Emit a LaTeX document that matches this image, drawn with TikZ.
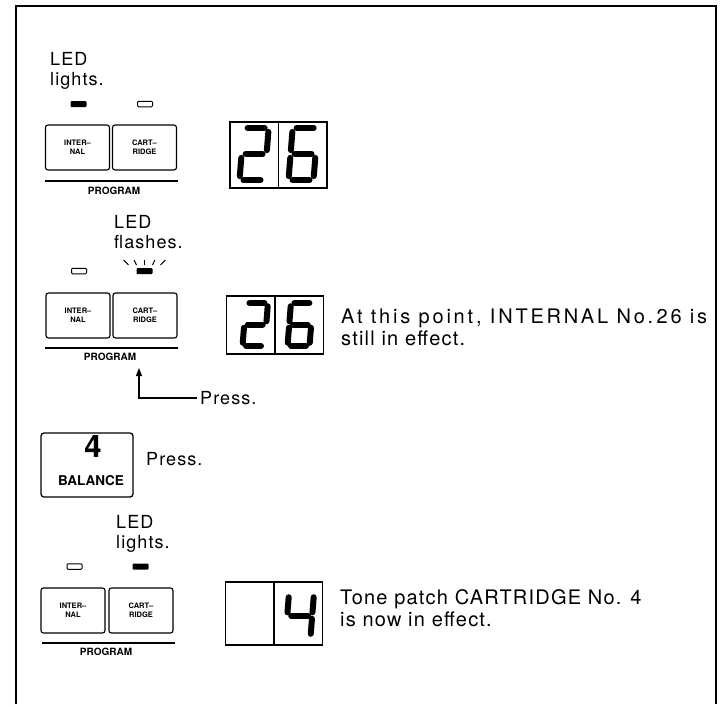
\documentclass[tikz,border=0pt]{standalone}
\usepackage{fontspec}
\setmainfont{TeX Gyre Heros}[LetterSpace=6]
\newfontfamily\keyfont{TeX Gyre Heros}
\newfontfamily\widefont{TeX Gyre Heros}[LetterSpace=14]
\usetikzlibrary{arrows.meta}

% segments of a seven-segment digit, unit width 1, height 2
\tikzset{
  seg a/.style={insert path={(0.16,-2) -- (0.84,-2)}},
  seg b/.style={insert path={(1,-1.85) -- (1,-1.15)}},
  seg c/.style={insert path={(1,-0.85) -- (1,-0.15)}},
  seg d/.style={insert path={(0.16,0) -- (0.84,0)}},
  seg e/.style={insert path={(0,-0.85) -- (0,-0.15)}},
  seg f/.style={insert path={(0,-1.85) -- (0,-1.15)}},
  seg g/.style={insert path={(0.16,-1) -- (0.84,-1)}},
}
% \segdigit{x}{y}{width}{height}{segments}
\newcommand{\segdigit}[5]{%
  \begin{scope}[shift={(#1,#2)}, xslant=0.08, xscale=#3, yscale=#4/2]
    \foreach \s in {#5} {\draw[segment, seg \s];}
  \end{scope}}

\begin{document}
\begin{tikzpicture}[
    x=1pt, y=-1pt,
    >={Triangle[length=8pt,width=6pt]},
    frame/.style={line width=1.2pt},
    progkey/.style={draw, line width=1.1pt, rounded corners=2.5pt, minimum width=64pt, minimum height=45pt,
      inner sep=0pt, align=center, font=\keyfont\bfseries\fontsize{7.5}{9}\selectfont},
    balkey/.style={draw, line width=1.3pt, rounded corners=3pt, minimum width=92pt, minimum height=64pt},
    ledon/.style={fill=black, rounded corners=1pt, minimum width=16pt, minimum height=6pt, inner sep=0pt},
    ledoff/.style={draw, line width=1pt, rounded corners=1pt, minimum width=15pt, minimum height=5.5pt, inner sep=0pt},
    progline/.style={line width=1.1pt},
    proglabel/.style={font=\keyfont\bfseries\fontsize{10}{11}\selectfont, inner sep=0pt},
    lcd/.style={draw, line width=1.1pt, minimum width=97pt, minimum height=66pt, inner sep=0pt},
    segment/.style={line width=6pt, line cap=round},
    note/.style={align=left, inner sep=0pt, anchor=north west, font=\fontsize{18}{20}\selectfont},
    msg/.style={note, font=\fontsize{20}{22}\selectfont},
  ]
  \useasboundingbox (0,0) rectangle (727,704);
  \draw[frame] (16,704) -- (16,6) -- (716,6) -- (716,704);

  % INTERNAL lit
  \node[note] (led1) at (50,52) {LED\\lights.};
  \node[ledon] (on1) at (78.5,104) {};
  \node[ledoff] (off1) at (145,104) {};
  \node[progkey] (int1) at (77.5,147.5) {INTER–\\NAL};
  \node[progkey] (cart1) at (144.5,147.5) {CART–\\RIDGE};
  \draw[progline] (45,181) -- (178,181);
  \node[proglabel] (prog1) at (114,191) {PROGRAM};
  \node[lcd] (lcd1) at (278.5,155) {};
  \draw[line width=1.1pt] (lcd1.north) -- (lcd1.south);
  \segdigit{239.5}{180}{25}{52}{a,b,g,e,d}
  \segdigit{288.5}{180}{25}{52}{a,f,g,e,d,c}

  % CARTRIDGE pressed
  \node[note] (led2) at (114,215) {LED\\flashes.};
  \node[ledoff] (off2) at (79,271) {};
  \node[ledon] (on2) at (144.5,271) {};
  \foreach \dx in {-16,-8,0,8,16}
    \draw[line width=1pt] (144.5+\dx,265) -- ++(0.3*\dx,-5);
  \node[progkey] (int2) at (78,315.5) {INTER–\\NAL};
  \node[progkey] (cart2) at (145,315.5) {CART–\\RIDGE};
  \draw[progline] (45,348) -- (178,348);
  \node[proglabel] (prog2) at (110,357) {PROGRAM};
  \node[lcd, minimum height=58pt] (lcd2) at (275,325) {};
  \draw[line width=1.1pt] (lcd2.north) -- (lcd2.south);
  \segdigit{242.5}{346}{22}{43}{a,b,g,e,d}
  \segdigit{287.5}{346}{22}{43}{a,f,g,e,d,c}
  \node[msg] (msg2) at (341,309) {\makebox[366pt][s]{\widefont At this point, INTERNAL No.\,26 is}\\still in effect.};
  \node[anchor=west, inner xsep=3pt, inner ysep=0pt, font=\fontsize{18}{20}\selectfont] (press2) at (197,398) {Press.};
  \coordinate (tip2) at (139,368);
  \draw[->, line width=1.1pt] (press2.west) -| (tip2);

  % BALANCE 4
  \node[balkey] (bal) at (87,465) {};
  \node[inner sep=0pt, font=\keyfont\bfseries\fontsize{31}{31}\selectfont] (num4) at (93,447) {4};
  \node[inner sep=0pt, font=\keyfont\bfseries\fontsize{13.5}{14}\selectfont] (balname) at (91,480.5) {BALANCE};
  \node[anchor=base west, inner sep=0pt, font=\fontsize{18}{20}\selectfont] (press3) at (146,465) {Press.};

  % CARTRIDGE lit
  \node[note] (led4) at (116,515) {LED\\lights.};
  \node[ledoff] (off4) at (74.5,566.5) {};
  \node[ledon] (on4) at (140.5,566.5) {};
  \node[progkey] (int4) at (73,610.5) {INTER–\\NAL};
  \node[progkey] (cart4) at (141,610.5) {CART–\\RIDGE};
  \draw[progline] (42,643) -- (175,643);
  \node[proglabel] (prog4) at (106,652) {PROGRAM};
  \node[lcd, minimum height=63pt] (lcd4) at (274,613.5) {};
  \draw[line width=1.1pt] (lcd4.north) -- (lcd4.south);
  \segdigit{285.5}{637}{25}{43}{f,g,b,c}
  \node[msg] (msg4) at (340,589) {Tone patch CARTRIDGE No. 4\\is now in effect.};
\end{tikzpicture}
\end{document}
